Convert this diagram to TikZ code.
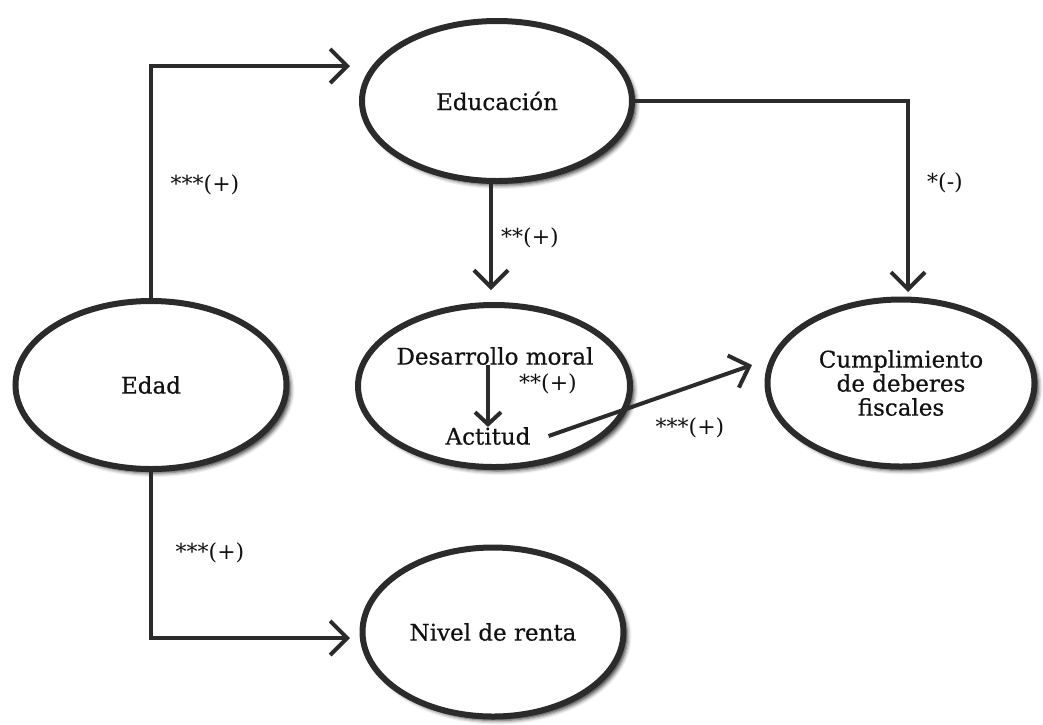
\documentclass[tikz,border=0pt]{standalone}
\usepackage{fontspec}
\setmainfont{DejaVu Serif}[BoldFont={DejaVu Serif}, BoldFeatures={FakeBold=0.6}]
\usetikzlibrary{shapes.geometric,arrows.meta,shadows.blur}
\definecolor{linecol}{HTML}{2B2B2B}
\definecolor{txtcol}{HTML}{111111}
\tikzset{
  oval/.style={ellipse, draw=linecol, line width=6pt, fill=white, inner sep=0pt,
    text=txtcol, font=\fontsize{23}{24}\selectfont\bfseries, align=center,
    blur shadow={shadow xshift=4pt, shadow yshift=-4pt, shadow blur radius=4pt, shadow opacity=80}},
  inner/.style={text=txtcol, font=\fontsize{23}{24}\selectfont\bfseries, inner sep=0pt},
  arr/.style={draw=linecol, line width=4pt, -{Straight Barb[length=17pt,width=34pt]}},
  lbl/.style={text=txtcol, font=\fontsize{22}{24}\selectfont, inner sep=0pt}
}
\begin{document}
\begin{tikzpicture}[x=1pt,y=-1pt]
\useasboundingbox (0,0) rectangle (1043,724);
\node[oval, minimum width=270pt, minimum height=160pt] (edu) at (497,101) {Educación};
\node[oval, minimum width=271pt, minimum height=168pt] (edad) at (151,385) {Edad};
\node[oval, minimum width=272pt, minimum height=162pt] (des) at (494,386) {};
\node[oval, minimum width=267pt, minimum height=167pt] (cump) at (901,383) {Cumplimiento\\de deberes\\fiscales};
\node[oval, minimum width=261pt, minimum height=169pt] (renta) at (493,632) {Nivel de renta};
\node[inner] (dm) at (495,356) {Desarrollo moral};
\node[inner, inner xsep=18pt] (act) at (488,436) {Actitud};
\coordinate (t1) at (350,66);
\coordinate (t2) at (350,638);
\coordinate (t3) at (908,292);
\coordinate (t4) at (491,290);
\coordinate (t5) at (752,365);
\draw[arr] (edad.north) |- (t1);
\draw[arr] (edad.south) |- (t2);
\draw[arr] (edu.east) -| (t3);
\draw[arr] (t4 |- edu.south) -- (t4);
\draw[arr, -{Straight Barb[length=12pt,width=26pt]}] (dm.south -| act) -- (act.north);
\draw[arr] (act.east) -- (t5);
\node[lbl] at (205,185) {***(+)};
\node[lbl] at (530,238) {**(+)};
\node[lbl] at (945,183) {*(-)};
\node[lbl] at (548,384) {**(+)};
\node[lbl] at (690,428) {***(+)};
\node[lbl] at (210,553) {***(+)};
\end{tikzpicture}
\end{document}
